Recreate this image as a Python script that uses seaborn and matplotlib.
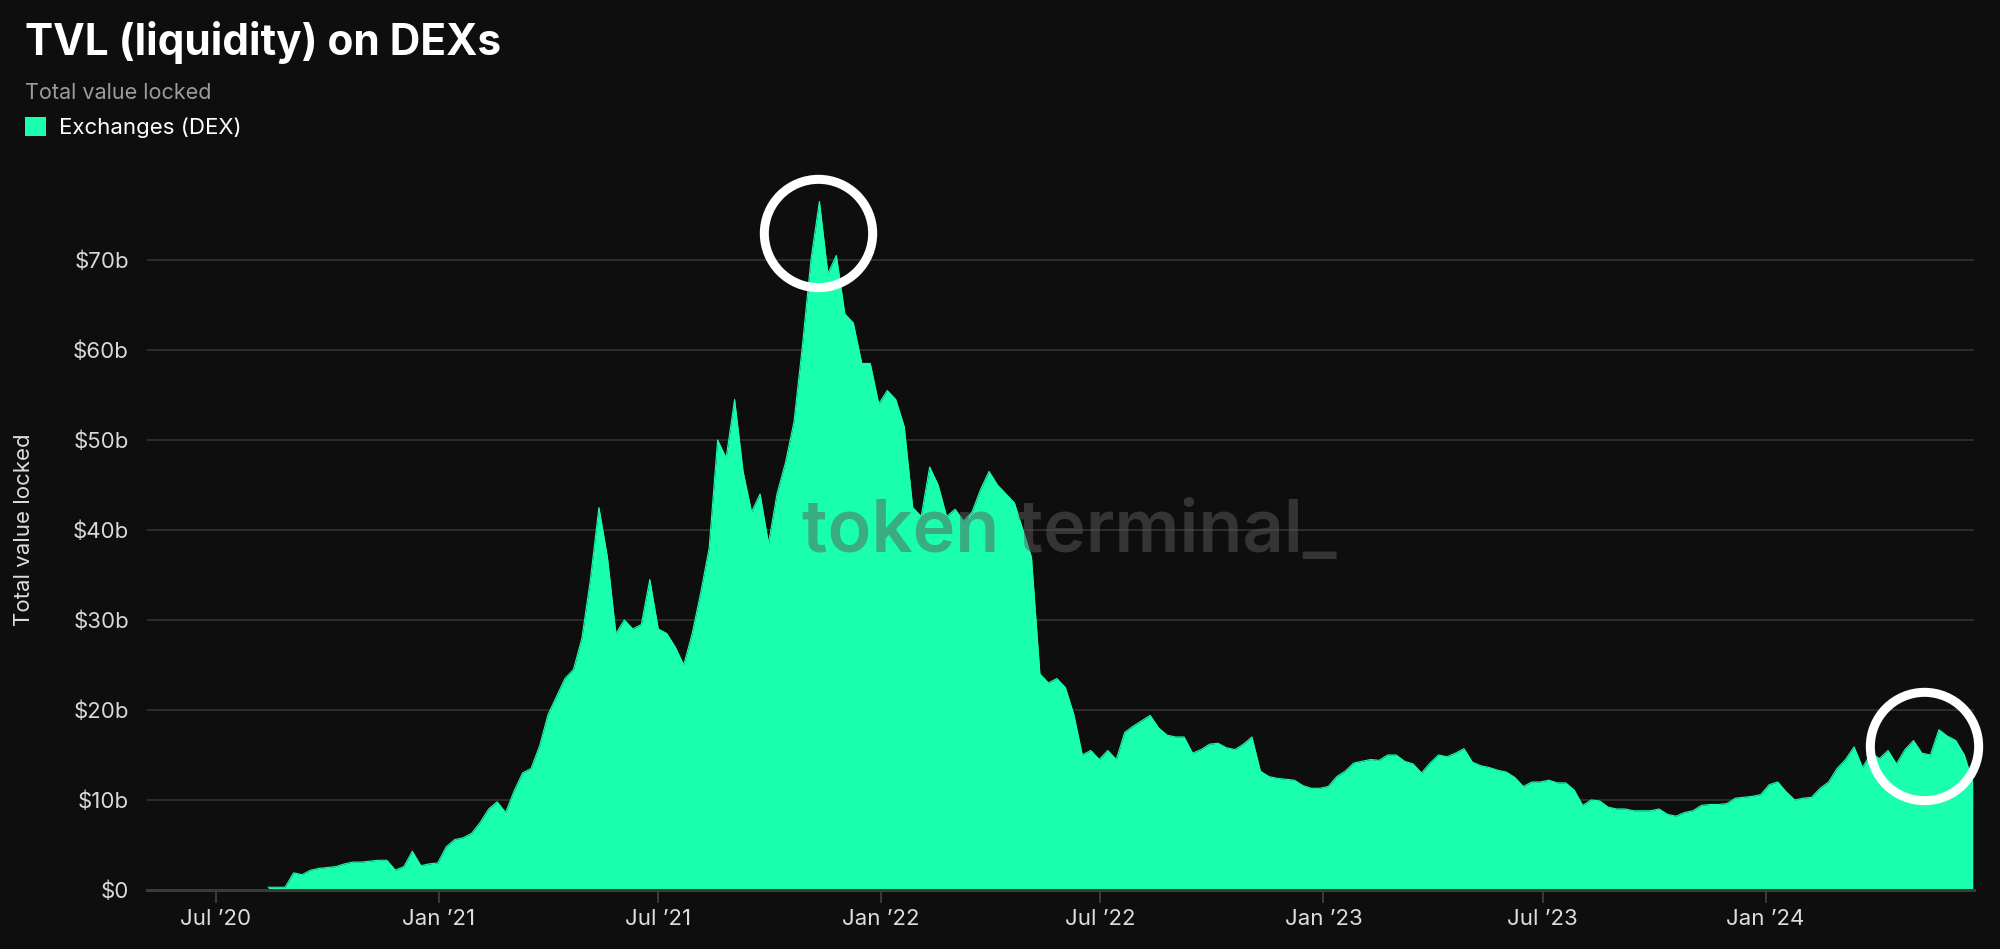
import pandas as pd
import matplotlib
matplotlib.use('Agg')
import matplotlib.pyplot as plt
import seaborn as sns

# weekly TVL readings (in $b), starting 2020-08-13
start_date = '2020-08-13'
tvl_billions = [
    0.3, 0.3, 0.3, 1.9, 1.7, 2.2, 2.4, 2.5, 2.6, 2.9,
    3.1, 3.1, 3.2, 3.3, 3.3, 2.2, 2.6, 4.3, 2.7, 2.9,
    3.0, 4.8, 5.6, 5.8, 6.3, 7.5, 9.0, 9.8, 8.6, 11.0,
    13.0, 13.5, 16.0, 19.5, 21.5, 23.5, 24.5, 28.0, 34.5, 42.5,
    37.0, 28.5, 30.0, 29.0, 29.5, 34.5, 29.0, 28.5, 27.0, 25.0,
    28.5, 33.0, 38.0, 50.0, 48.0, 54.5, 46.5, 42.0, 44.0, 38.5,
    44.0, 47.5, 52.0, 60.5, 70.0, 76.5, 68.5, 70.5, 64.0, 63.0,
    58.5, 58.5, 54.0, 55.5, 54.5, 51.5, 42.5, 41.5, 47.0, 45.0,
    41.5, 42.3, 41.0, 42.0, 44.5, 46.5, 45.0, 44.0, 43.0, 40.0,
    37.0, 24.0, 23.0, 23.5, 22.5, 19.5, 15.0, 15.5, 14.5, 15.5,
    14.5, 17.5, 18.2, 18.8, 19.4, 18.0, 17.2, 17.0, 17.0, 15.2,
    15.6, 16.2, 16.3, 15.8, 15.6, 16.2, 17.0, 13.2, 12.6, 12.4,
    12.3, 12.2, 11.6, 11.3, 11.3, 11.5, 12.6, 13.2, 14.1, 14.3,
    14.5, 14.4, 15.0, 15.0, 14.3, 14.0, 13.0, 14.1, 15.0, 14.8,
    15.2, 15.7, 14.2, 13.8, 13.6, 13.3, 13.1, 12.5, 11.5, 12.0,
    12.0, 12.2, 11.9, 11.9, 11.1, 9.4, 10.0, 9.9, 9.2, 9.0,
    9.0, 8.8, 8.8, 8.8, 9.0, 8.4, 8.2, 8.6, 8.8, 9.4,
    9.5, 9.5, 9.6, 10.2, 10.3, 10.4, 10.6, 11.7, 12.0, 10.9,
    10.0, 10.2, 10.3, 11.3, 12.0, 13.5, 14.5, 15.9, 13.6, 15.2,
    14.6, 15.5, 14.0, 15.6, 16.6, 15.2, 15.0, 17.8, 17.1, 16.6,
    15.0, 12.0,
]

tick_dates = ['2020-07-01', '2021-01-01', '2021-07-01', '2022-01-01',
              '2022-07-01', '2023-01-01', '2023-07-01', '2024-01-01']
tick_labels = ['Jul \u201920', 'Jan \u201921', 'Jul \u201921', 'Jan \u201922',
               'Jul \u201922', 'Jan \u201923', 'Jul \u201923', 'Jan \u201924']
y_ticks = [0, 10, 20, 30, 40, 50, 60, 70]
y_tick_labels = ['$0', '$10b', '$20b', '$30b', '$40b', '$50b', '$60b', '$70b']

# the two circled spots
highlight_dates = ['2021-11-10', '2024-05-11']
highlight_values = [73.0, 16.0]

bg = '#0e0e0e'
green = '#19ffae'

df = pd.DataFrame({
    'date': pd.date_range(start_date, periods=len(tvl_billions), freq='7D'),
    'tvl': tvl_billions,
})

sns.set_theme(style='dark', rc={
    'figure.facecolor': bg,
    'axes.facecolor': bg,
    'savefig.facecolor': bg,
    'text.color': 'white',
})
plt.rcParams['font.family'] = ['Inter', 'DejaVu Sans']

fig = plt.figure(figsize=(20, 9.49), dpi=100)
ax = fig.add_axes([0.0735, 0.0622, 0.9135, 0.7587])

ax.fill_between(df['date'], df['tvl'], color=green, lw=0, zorder=2, label='Exchanges (DEX)')
sns.lineplot(data=df, x='date', y='tvl', color=green, lw=0.8, ax=ax, zorder=2, legend=False)

ax.plot(pd.to_datetime(highlight_dates), highlight_values, ls='none', marker='o',
        markersize=78, markerfacecolor='none', markeredgecolor='white',
        markeredgewidth=6.5, zorder=4, clip_on=False)

ax.set_xlim(pd.Timestamp('2020-05-05'), pd.Timestamp('2024-06-21'))
ax.set_ylim(0, 80)
ax.set_xticks(pd.to_datetime(tick_dates))
ax.set_xticklabels(tick_labels)
ax.set_yticks(y_ticks)
ax.set_yticklabels(y_tick_labels)

ax.set_axisbelow(True)
ax.grid(axis='y', color='#333333', lw=1.2)
ax.grid(axis='x', visible=False)
for s in ['top', 'right', 'left']:
    ax.spines[s].set_visible(False)
ax.spines['bottom'].set_color('#3a3a3a')
ax.spines['bottom'].set_linewidth(2.2)
ax.spines['bottom'].set_zorder(3)

ax.tick_params(axis='x', colors='#444444', length=9, width=1.2, pad=5,
               labelcolor='#dddddd', labelsize=16, bottom=True)
ax.tick_params(axis='y', length=0, pad=13, labelcolor='#d8d8d8', labelsize=16)

ax.set_xlabel('')
ax.set_ylabel('Total value locked', color='#dddddd', fontsize=16)
ax.yaxis.set_label_coords(-0.0617, 0.5)

fig.text(0.0125, 1 - 55 / 949, 'TVL (liquidity) on DEXs', fontsize=30.5,
         fontweight='bold', color='white', va='baseline')
fig.text(0.0125, 1 - 99 / 949, 'Total value locked', fontsize=15.5,
         color='#9b9b9b', va='baseline')
fig.legend(loc='upper left', bbox_to_anchor=(0.0125, 1 - 117 / 949), frameon=False,
           fontsize=16, handlelength=0.95, handleheight=0.95, handletextpad=0.6,
           borderpad=0, borderaxespad=0, labelcolor='white')

# watermark
fig.text(1069 / 2000, 1 - 533 / 949, 'token terminal_', fontsize=52,
         fontweight='semibold', color='#5a5a5a', alpha=0.5,
         ha='center', va='center', zorder=10)

plt.savefig('out.png', dpi=100)
